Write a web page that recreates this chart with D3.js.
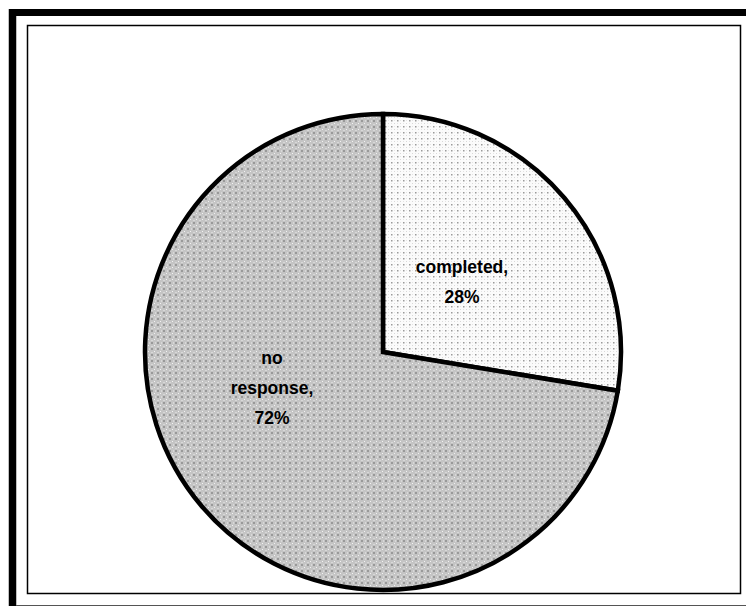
<!DOCTYPE html>
<html><head><meta charset="utf-8">
<script src="https://cdn.jsdelivr.net/npm/d3@7"></script>
<style>html,body{margin:0;padding:0;background:#fff;}svg{display:block;}</style>
</head><body>
<svg id="chart" width="746" height="606"></svg>
<script>
const categories = ["completed", "no response"];
const values = [27.6, 72.4];
const labelLines = [["completed,", "28%"], ["no", "response,", "72%"]];

const svg = d3.select("#chart");
const W = 746, H = 606;
const defs = svg.append("defs");

// pattern: light dotted
const p1 = defs.append("pattern").attr("id","pat0").attr("patternUnits","userSpaceOnUse").attr("width",6).attr("height",6);
p1.append("rect").attr("width",6).attr("height",6).attr("fill","#fbfbfb");
p1.append("rect").attr("x",2).attr("y",2).attr("width",1.5).attr("height",1.5).attr("fill","#9a9a9a");
p1.append("rect").attr("x",5).attr("y",5).attr("width",1).attr("height",1).attr("fill","#d8d8d8");
p1.append("rect").attr("x",2).attr("y",5).attr("width",1).attr("height",1).attr("fill","#e4e4e4");
p1.append("rect").attr("x",5).attr("y",2).attr("width",1).attr("height",1).attr("fill","#e4e4e4");

// pattern: denser gray
const p2 = defs.append("pattern").attr("id","pat1").attr("patternUnits","userSpaceOnUse").attr("width",6).attr("height",6);
p2.append("rect").attr("width",6).attr("height",6).attr("fill","#c4c4c4");
p2.append("rect").attr("x",2).attr("y",2).attr("width",2).attr("height",2).attr("fill","#999");
p2.append("rect").attr("x",5).attr("y",5).attr("width",1).attr("height",1).attr("fill","#f2f2f2");
p2.append("rect").attr("x",0).attr("y",2).attr("width",1).attr("height",2).attr("fill","#d8d8d8");
p2.append("rect").attr("x",2).attr("y",0).attr("width",2).attr("height",1).attr("fill","#d8d8d8");

// outer frame
svg.append("line").attr("x1",9).attr("x2",W).attr("y1",12.5).attr("y2",12.5).attr("stroke","#000").attr("stroke-width",7);
svg.append("line").attr("x1",12.5).attr("x2",12.5).attr("y1",9).attr("y2",H).attr("stroke","#000").attr("stroke-width",7.5);
svg.append("line").attr("x1",16).attr("x2",W).attr("y1",605.5).attr("y2",605.5).attr("stroke","#555").attr("stroke-width",1);

// inner frame
svg.append("rect").attr("x",27.5).attr("y",25.5).attr("width",713).attr("height",568)
  .attr("fill","none").attr("stroke","#000").attr("stroke-width",1.5);

const cx = 383, cy = 352, r = 238;
const g = svg.append("g").attr("transform",`translate(${cx},${cy})`);
const pie = d3.pie().sort(null).value(d => d)(values);
const arc = d3.arc().innerRadius(0).outerRadius(r);

g.selectAll("path.slice").data(pie).join("path")
  .attr("class","slice")
  .attr("d", arc)
  .attr("fill",(d,i)=>`url(#pat${i})`)
  .attr("stroke","#000").attr("stroke-width",4.5).attr("stroke-linejoin","miter");

// label placement (layout offsets relative to pie centre)
const labelOffsets = [[79,-70],[-111,36]];
const lineH = 30;
pie.forEach((d,i)=>{
  const lines = labelLines[i];
  const [ox, oy] = labelOffsets[i];
  const t = g.append("text").attr("text-anchor","middle")
    .attr("font-family","Liberation Sans, Arial, sans-serif")
    .attr("font-weight","bold").attr("font-size",17.5).attr("fill","#000");
  const y0 = oy - (lines.length-1)*lineH/2 + 6;
  lines.forEach((s,k)=>{
    t.append("tspan").attr("x",ox).attr("y",y0 + k*lineH).text(s);
  });
});
</script>
</body></html>
